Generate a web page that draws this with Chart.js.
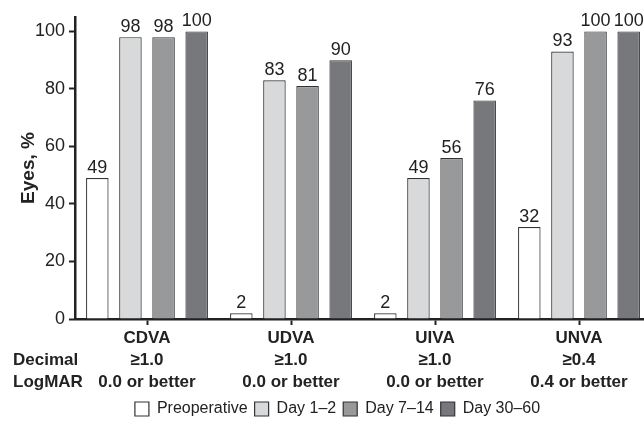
<!DOCTYPE html>
<html>
<head>
<meta charset="utf-8">
<script src="https://cdn.jsdelivr.net/npm/chart.js@4/dist/chart.umd.min.js"></script>
<style>
  body { margin: 0; background: #fff; overflow: hidden; }
  #wrap { width: 660px; height: 424px; }
</style>
</head>
<body>
<div id="wrap"><canvas id="graf" width="660" height="424"></canvas></div>
<script>
let measures = ["CDVA", "UDVA", "UIVA", "UNVA"];
let decimalRow = ["\u22651.0", "\u22651.0", "\u22651.0", "\u22650.4"];
let logmarRow = ["0.0 or better", "0.0 or better", "0.0 or better", "0.4 or better"];
let seriesNames = ["Preoperative", "Day 1\u20132", "Day 7\u201314", "Day 30\u201360"];
let preop = [49, 2, 2, 32];
let day1 = [98, 83, 49, 93];
let day7 = [98, 81, 56, 100];
let day30 = [100, 90, 76, 100];
let yTicks = [0, 20, 40, 60, 80, 100];
let barColors = ["#ffffff", "#d8d9da", "#98999b", "#77787c"];

const fontFam = "'Liberation Sans', Arial, Helvetica, sans-serif";

let xLabels = measures.map((m, i) => [m, decimalRow[i], logmarRow[i]]);
let allSeries = [preop, day1, day7, day30];

// value labels above bars
const barValues = {
    id: "barValues",
    afterDatasetsDraw(chart) {
        const ctx = chart.ctx;
        ctx.save();
        ctx.font = "18px " + fontFam;
        ctx.fillStyle = "#222";
        ctx.textAlign = "center";
        ctx.textBaseline = "bottom";
        chart.data.datasets.forEach((ds, d) => {
            chart.getDatasetMeta(d).data.forEach((bar, i) => {
                ctx.fillText(ds.data[i], bar.x, bar.y - 1);
            });
        });
        ctx.restore();
    }
};

// "Decimal" / "LogMAR" row headings
const rowHeads = {
    id: "rowHeads",
    afterDraw(chart) {
        const ctx = chart.ctx;
        const xs = chart.scales.x;
        ctx.save();
        ctx.font = "bold 17px " + fontFam;
        ctx.fillStyle = "#222";
        ctx.textAlign = "left";
        ctx.textBaseline = "middle";
        let y0 = xs.top + 6 + 2 + 11;
        ctx.fillText("Decimal", 13, y0 + 22);
        ctx.fillText("LogMAR", 13, y0 + 44);
        ctx.restore();
    }
};

// nudge the legend a bit right and down, like in the original figure
const legendShift = {
    id: "legendShift",
    afterLayout(chart) {
        if (chart.legend) {
            chart.legend.left += 12;
            chart.legend.right += 12;
            chart.legend.top += 3;
            chart.legend.bottom += 3;
        }
    }
};

const config = {
    type: "bar",
    data: {
        labels: xLabels,
        datasets: allSeries.map((vals, i) => ({
            label: seriesNames[i],
            data: vals,
            backgroundColor: barColors[i],
            borderColor: "#333",
            borderWidth: 1.2,
            barPercentage: 0.68,
            categoryPercentage: 0.92
        }))
    },
    options: {
        responsive: false,
        animation: false,
        layout: { padding: { left: 0, right: 9, top: 17, bottom: 0 } },
        plugins: {
            tooltip: { enabled: false },
            legend: {
                position: "bottom",
                labels: {
                    font: { size: 16, family: fontFam },
                    color: "#222",
                    boxWidth: 14,
                    boxHeight: 14,
                    padding: 7
                }
            }
        },
        scales: {
            x: {
                grid: {
                    drawOnChartArea: false,
                    offset: false,
                    tickLength: 6,
                    tickColor: "#222",
                    tickWidth: 2
                },
                border: { color: "#222", width: 2.5 },
                ticks: {
                    font: { size: 17, weight: "bold", family: fontFam, lineHeight: 22 / 17 },
                    color: "#222",
                    padding: 2,
                    maxRotation: 0
                },
                afterFit(scale) { scale.height = 72; }
            },
            y: {
                min: 0,
                max: 105,
                grid: {
                    drawOnChartArea: false,
                    tickLength: 6,
                    tickColor: "#222",
                    tickWidth: 2
                },
                border: { color: "#222", width: 2.5 },
                ticks: {
                    stepSize: 20,
                    font: { size: 18, family: fontFam },
                    color: "#222",
                    padding: 4
                },
                afterBuildTicks(scale) {
                    scale.ticks = yTicks.map(v => ({ value: v }));
                },
                title: {
                    display: true,
                    text: "Eyes, %",
                    font: { size: 19, weight: "bold", family: fontFam },
                    color: "#222",
                    padding: { top: 17, bottom: 0 }
                },
                afterFit(scale) { scale.width = 75; }
            }
        }
    },
    plugins: [barValues, rowHeads, legendShift]
};

let grafko = new Chart(document.getElementById("graf"), config);
</script>
</body>
</html>
